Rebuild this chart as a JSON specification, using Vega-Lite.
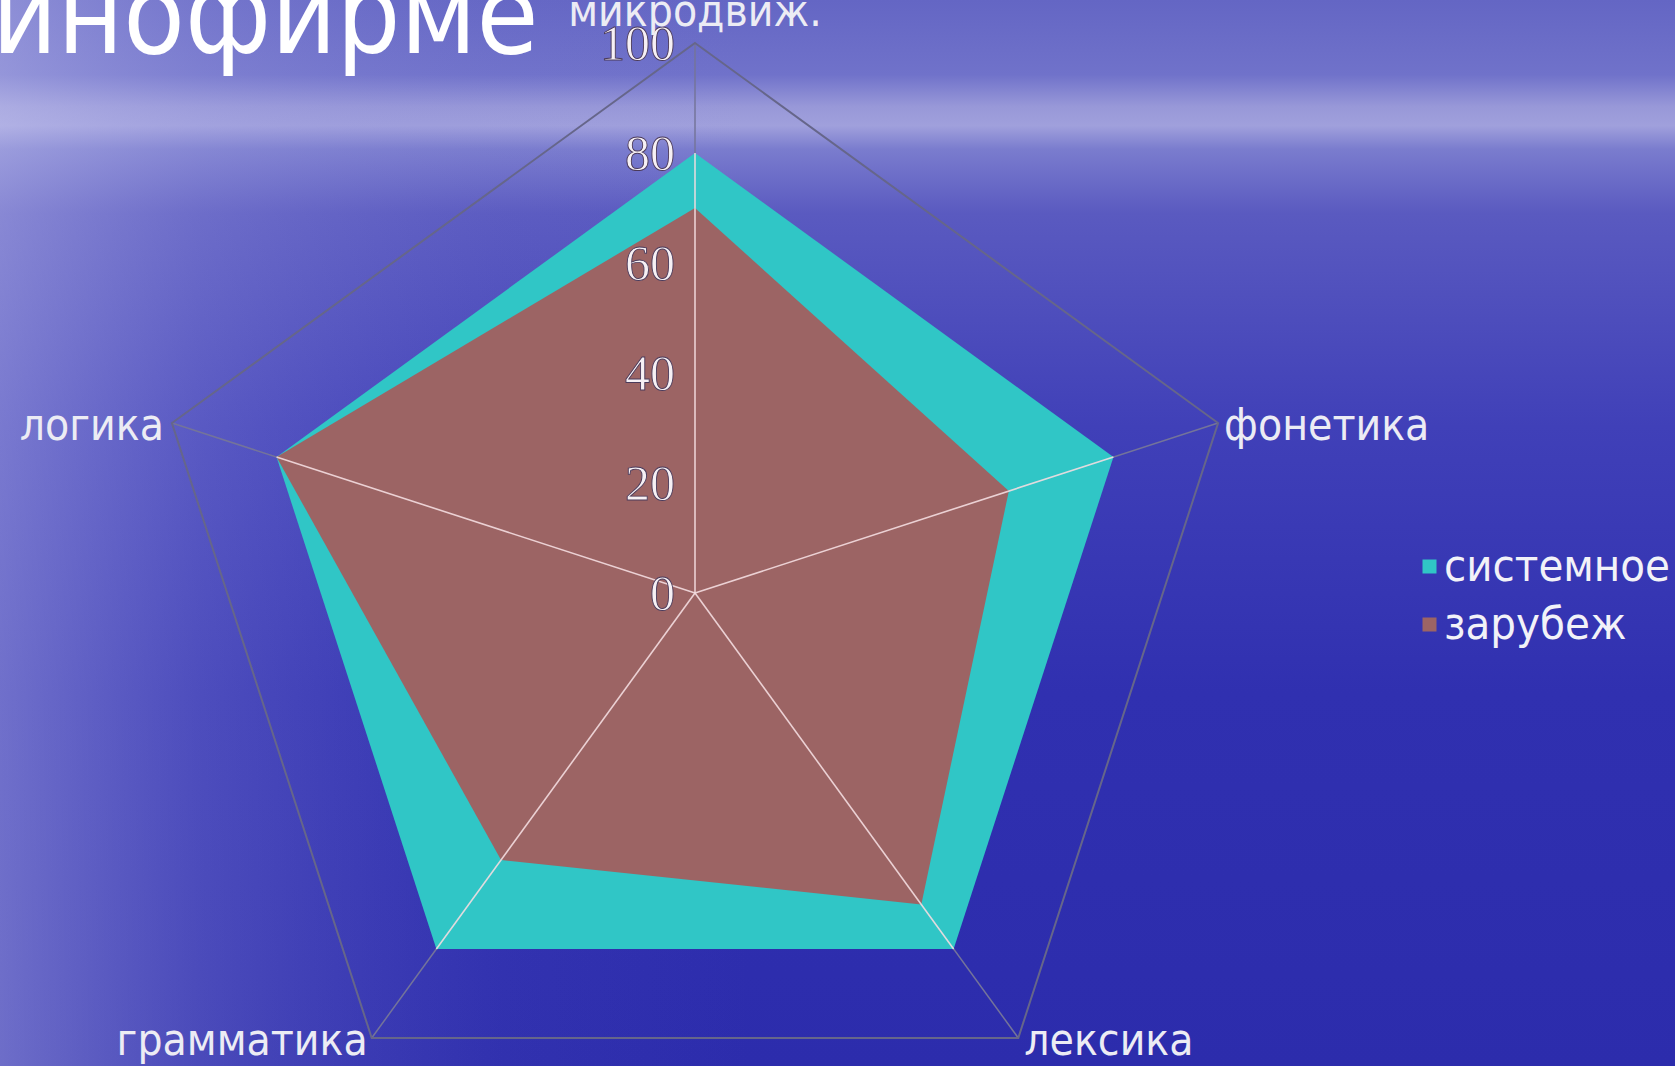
{
  "$schema": "https://vega.github.io/schema/vega-lite/v6.json",
  "width": 1675,
  "height": 1066,
  "padding": 0,
  "autosize": {"type": "none"},
  "background": "#3a3ab8",
  "config": {"view": {"stroke": null}},
  "datasets": {
    "scores": [
      {"category": "микродвиж.", "idx": 0, "series": "системное", "value": 80},
      {"category": "фонетика", "idx": 1, "series": "системное", "value": 80},
      {"category": "лексика", "idx": 2, "series": "системное", "value": 80},
      {"category": "грамматика", "idx": 3, "series": "системное", "value": 80},
      {"category": "логика", "idx": 4, "series": "системное", "value": 80},
      {"category": "микродвиж.", "idx": 0, "series": "зарубеж", "value": 70},
      {"category": "фонетика", "idx": 1, "series": "зарубеж", "value": 60},
      {"category": "лексика", "idx": 2, "series": "зарубеж", "value": 70},
      {"category": "грамматика", "idx": 3, "series": "зарубеж", "value": 60},
      {"category": "логика", "idx": 4, "series": "зарубеж", "value": 80}
    ],
    "axes": [
      {"category": "микродвиж.", "idx": 0, "min": 0, "max": 100},
      {"category": "фонетика", "idx": 1, "min": 0, "max": 100},
      {"category": "лексика", "idx": 2, "min": 0, "max": 100},
      {"category": "грамматика", "idx": 3, "min": 0, "max": 100},
      {"category": "логика", "idx": 4, "min": 0, "max": 100}
    ],
    "ticks": [
      {"tick": 0}, {"tick": 20}, {"tick": 40}, {"tick": 60}, {"tick": 80}, {"tick": 100}
    ],
    "frame": [
      {"xmin": -126.364, "xmax": 178.182, "ymin": -86, "ymax": 107.818, "heading": "инофирме"}
    ]
  },
  "layer": [
    {
      "data": {"name": "frame"},
      "mark": {
        "type": "rect",
        "color": {
          "gradient": "linear", "x1": 0, "y1": 0, "x2": 0, "y2": 1,
          "stops": [
            {"offset": 0, "color": "#6466c4"},
            {"offset": 0.07, "color": "#7072ca"},
            {"offset": 0.1, "color": "#9898d8"},
            {"offset": 0.118, "color": "#a0a0dc"},
            {"offset": 0.14, "color": "#7a7cce"},
            {"offset": 0.2, "color": "#5a5ac0"},
            {"offset": 0.4, "color": "#4040b8"},
            {"offset": 0.65, "color": "#3030b0"},
            {"offset": 1, "color": "#2c2cac"}
          ]
        }
      },
      "encoding": {
        "x": {"field": "xmin", "type": "quantitative", "scale": {"domain": [-126.364, 178.182], "nice": false, "zero": false}, "axis": null},
        "x2": {"field": "xmax"},
        "y": {"field": "ymin", "type": "quantitative", "scale": {"domain": [-86, 107.818], "nice": false, "zero": false}, "axis": null},
        "y2": {"field": "ymax"}
      }
    },
    {
      "data": {"name": "frame"},
      "mark": {
        "type": "rect",
        "color": {
          "gradient": "linear", "x1": 0, "y1": 0, "x2": 1, "y2": 0,
          "stops": [
            {"offset": 0, "color": "rgba(200,200,240,0.42)"},
            {"offset": 0.12, "color": "rgba(170,170,230,0.24)"},
            {"offset": 0.3, "color": "rgba(130,130,215,0.06)"},
            {"offset": 0.45, "color": "rgba(120,120,210,0)"}
          ]
        }
      },
      "encoding": {
        "x": {"field": "xmin", "type": "quantitative", "scale": {"domain": [-126.364, 178.182], "nice": false, "zero": false}, "axis": null},
        "x2": {"field": "xmax"},
        "y": {"field": "ymin", "type": "quantitative", "scale": {"domain": [-86, 107.818], "nice": false, "zero": false}, "axis": null},
        "y2": {"field": "ymax"}
      }
    },
    {
      "data": {"name": "axes"},
      "transform": [
        {"calculate": "datum.max * sin(datum.idx * 2 * PI / 5)", "as": "px"},
        {"calculate": "datum.max * cos(datum.idx * 2 * PI / 5)", "as": "py"},
        {"calculate": "datum.min * sin(datum.idx * 2 * PI / 5)", "as": "cx"},
        {"calculate": "datum.min * cos(datum.idx * 2 * PI / 5)", "as": "cy"}
      ],
      "mark": {"type": "rule", "color": "#74749a", "strokeWidth": 1.5},
      "encoding": {
        "x": {"field": "cx", "type": "quantitative", "scale": {"domain": [-126.364, 178.182], "nice": false, "zero": false}, "axis": null},
        "y": {"field": "cy", "type": "quantitative", "scale": {"domain": [-86, 107.818], "nice": false, "zero": false}, "axis": null},
        "x2": {"field": "px"},
        "y2": {"field": "py"}
      }
    },
    {
      "data": {"name": "scores"},
      "transform": [
        {"filter": "datum.series === 'системное'"},
        {"calculate": "datum.value * sin(datum.idx * 2 * PI / 5)", "as": "px"},
        {"calculate": "datum.value * cos(datum.idx * 2 * PI / 5)", "as": "py"}
      ],
      "mark": {"type": "line", "interpolate": "linear-closed", "strokeOpacity": 0},
      "encoding": {
        "x": {"field": "px", "type": "quantitative", "scale": {"domain": [-126.364, 178.182], "nice": false, "zero": false}, "axis": null},
        "y": {"field": "py", "type": "quantitative", "scale": {"domain": [-86, 107.818], "nice": false, "zero": false}, "axis": null},
        "order": {"field": "idx", "type": "quantitative"},
        "fill": {
          "field": "series", "type": "nominal",
          "scale": {"domain": ["системное", "зарубеж"], "range": ["#30c6c6", "#9c6464"]},
          "legend": {
            "orient": "none", "legendX": 1407, "legendY": 544, "title": null,
            "symbolType": "square", "symbolSize": 196, "symbolStrokeWidth": 0,
            "labelFont": "DejaVu Sans Condensed", "labelFontSize": 45, "labelColor": "#f2f2f8",
            "labelOffset": -8, "rowPadding": 12, "labelLimit": 400,
            "encode": {"symbols": {"update": {"fill": {"signal": "datum.value === 'зарубеж' ? '#5a1a46' : '#30c6c6'"}}}}
          }
        }
      }
    },
    {
      "data": {"name": "scores"},
      "transform": [
        {"filter": "datum.series === 'зарубеж'"},
        {"calculate": "datum.value * sin(datum.idx * 2 * PI / 5)", "as": "px"},
        {"calculate": "datum.value * cos(datum.idx * 2 * PI / 5)", "as": "py"}
      ],
      "mark": {"type": "line", "interpolate": "linear-closed", "strokeOpacity": 0},
      "encoding": {
        "x": {"field": "px", "type": "quantitative", "scale": {"domain": [-126.364, 178.182], "nice": false, "zero": false}, "axis": null},
        "y": {"field": "py", "type": "quantitative", "scale": {"domain": [-86, 107.818], "nice": false, "zero": false}, "axis": null},
        "order": {"field": "idx", "type": "quantitative"},
        "fill": {"field": "series", "type": "nominal"}
      }
    },
    {
      "data": {"name": "axes"},
      "transform": [
        {"calculate": "datum.max * sin(datum.idx * 2 * PI / 5)", "as": "px"},
        {"calculate": "datum.max * cos(datum.idx * 2 * PI / 5)", "as": "py"}
      ],
      "mark": {"type": "line", "interpolate": "linear-closed", "color": "#66668a", "strokeWidth": 2},
      "encoding": {
        "x": {"field": "px", "type": "quantitative", "scale": {"domain": [-126.364, 178.182], "nice": false, "zero": false}, "axis": null},
        "y": {"field": "py", "type": "quantitative", "scale": {"domain": [-86, 107.818], "nice": false, "zero": false}, "axis": null},
        "order": {"field": "idx", "type": "quantitative"}
      }
    },
    {
      "data": {"name": "scores"},
      "transform": [
        {"filter": "datum.series === 'системное'"},
        {"calculate": "datum.value * sin(datum.idx * 2 * PI / 5)", "as": "px"},
        {"calculate": "datum.value * cos(datum.idx * 2 * PI / 5)", "as": "py"},
        {"calculate": "0 * datum.value", "as": "cx"},
        {"calculate": "0 * datum.value", "as": "cy"}
      ],
      "mark": {"type": "rule", "color": "#f4dde0", "strokeWidth": 1.6, "opacity": 0.9},
      "encoding": {
        "x": {"field": "cx", "type": "quantitative", "scale": {"domain": [-126.364, 178.182], "nice": false, "zero": false}, "axis": null},
        "y": {"field": "cy", "type": "quantitative", "scale": {"domain": [-86, 107.818], "nice": false, "zero": false}, "axis": null},
        "x2": {"field": "px"},
        "y2": {"field": "py"}
      }
    },
    {
      "data": {"name": "ticks"},
      "transform": [
        {"calculate": "datum.tick * sin(0)", "as": "tx"}
      ],
      "mark": {"type": "text", "align": "right", "baseline": "middle", "dx": -20, "dy": 2, "font": "Liberation Serif", "fontSize": 50, "color": "#f6f0f4", "stroke": "#4a3a5a", "strokeWidth": 0.9},
      "encoding": {
        "x": {"field": "tx", "type": "quantitative", "scale": {"domain": [-126.364, 178.182], "nice": false, "zero": false}, "axis": null},
        "y": {"field": "tick", "type": "quantitative", "scale": {"domain": [-86, 107.818], "nice": false, "zero": false}, "axis": null},
        "text": {"field": "tick", "type": "quantitative"}
      }
    },
    {
      "data": {"name": "axes"},
      "transform": [
        {"filter": "datum.idx === 0"},
        {"calculate": "datum.max * sin(datum.idx * 2 * PI / 5)", "as": "px"},
        {"calculate": "datum.max * cos(datum.idx * 2 * PI / 5)", "as": "py"}
      ],
      "mark": {"type": "text", "align": "center", "baseline": "alphabetic", "dy": -17, "font": "DejaVu Sans Condensed", "fontSize": 44, "color": "#ececf4"},
      "encoding": {
        "x": {"field": "px", "type": "quantitative", "scale": {"domain": [-126.364, 178.182], "nice": false, "zero": false}, "axis": null},
        "y": {"field": "py", "type": "quantitative", "scale": {"domain": [-86, 107.818], "nice": false, "zero": false}, "axis": null},
        "text": {"field": "category", "type": "nominal"}
      }
    },
    {
      "data": {"name": "axes"},
      "transform": [
        {"filter": "datum.idx === 1"},
        {"calculate": "datum.max * sin(datum.idx * 2 * PI / 5)", "as": "px"},
        {"calculate": "datum.max * cos(datum.idx * 2 * PI / 5)", "as": "py"}
      ],
      "mark": {"type": "text", "align": "left", "baseline": "middle", "dx": 6, "dy": 4, "font": "DejaVu Sans Condensed", "fontSize": 44, "color": "#ececf4"},
      "encoding": {
        "x": {"field": "px", "type": "quantitative", "scale": {"domain": [-126.364, 178.182], "nice": false, "zero": false}, "axis": null},
        "y": {"field": "py", "type": "quantitative", "scale": {"domain": [-86, 107.818], "nice": false, "zero": false}, "axis": null},
        "text": {"field": "category", "type": "nominal"}
      }
    },
    {
      "data": {"name": "axes"},
      "transform": [
        {"filter": "datum.idx === 2"},
        {"calculate": "datum.max * sin(datum.idx * 2 * PI / 5)", "as": "px"},
        {"calculate": "datum.max * cos(datum.idx * 2 * PI / 5)", "as": "py"}
      ],
      "mark": {"type": "text", "align": "left", "baseline": "middle", "dx": 6, "dy": 4, "font": "DejaVu Sans Condensed", "fontSize": 44, "color": "#ececf4"},
      "encoding": {
        "x": {"field": "px", "type": "quantitative", "scale": {"domain": [-126.364, 178.182], "nice": false, "zero": false}, "axis": null},
        "y": {"field": "py", "type": "quantitative", "scale": {"domain": [-86, 107.818], "nice": false, "zero": false}, "axis": null},
        "text": {"field": "category", "type": "nominal"}
      }
    },
    {
      "data": {"name": "axes"},
      "transform": [
        {"filter": "datum.idx === 3"},
        {"calculate": "datum.max * sin(datum.idx * 2 * PI / 5)", "as": "px"},
        {"calculate": "datum.max * cos(datum.idx * 2 * PI / 5)", "as": "py"}
      ],
      "mark": {"type": "text", "align": "right", "baseline": "middle", "dx": -4, "dy": 4, "font": "DejaVu Sans Condensed", "fontSize": 44, "color": "#ececf4"},
      "encoding": {
        "x": {"field": "px", "type": "quantitative", "scale": {"domain": [-126.364, 178.182], "nice": false, "zero": false}, "axis": null},
        "y": {"field": "py", "type": "quantitative", "scale": {"domain": [-86, 107.818], "nice": false, "zero": false}, "axis": null},
        "text": {"field": "category", "type": "nominal"}
      }
    },
    {
      "data": {"name": "axes"},
      "transform": [
        {"filter": "datum.idx === 4"},
        {"calculate": "datum.max * sin(datum.idx * 2 * PI / 5)", "as": "px"},
        {"calculate": "datum.max * cos(datum.idx * 2 * PI / 5)", "as": "py"}
      ],
      "mark": {"type": "text", "align": "right", "baseline": "middle", "dx": -8, "dy": 4, "font": "DejaVu Sans Condensed", "fontSize": 44, "color": "#ececf4"},
      "encoding": {
        "x": {"field": "px", "type": "quantitative", "scale": {"domain": [-126.364, 178.182], "nice": false, "zero": false}, "axis": null},
        "y": {"field": "py", "type": "quantitative", "scale": {"domain": [-86, 107.818], "nice": false, "zero": false}, "axis": null},
        "text": {"field": "category", "type": "nominal"}
      }
    },
    {
      "data": {"name": "frame"},
      "mark": {"type": "text", "align": "left", "baseline": "alphabetic", "dx": -8, "dy": 53, "font": "DejaVu Sans Condensed", "fontSize": 112, "color": "#ffffff"},
      "encoding": {
        "x": {"field": "xmin", "type": "quantitative", "scale": {"domain": [-126.364, 178.182], "nice": false, "zero": false}, "axis": null},
        "y": {"field": "ymax", "type": "quantitative", "scale": {"domain": [-86, 107.818], "nice": false, "zero": false}, "axis": null},
        "text": {"field": "heading", "type": "nominal"}
      }
    }
  ]
}
